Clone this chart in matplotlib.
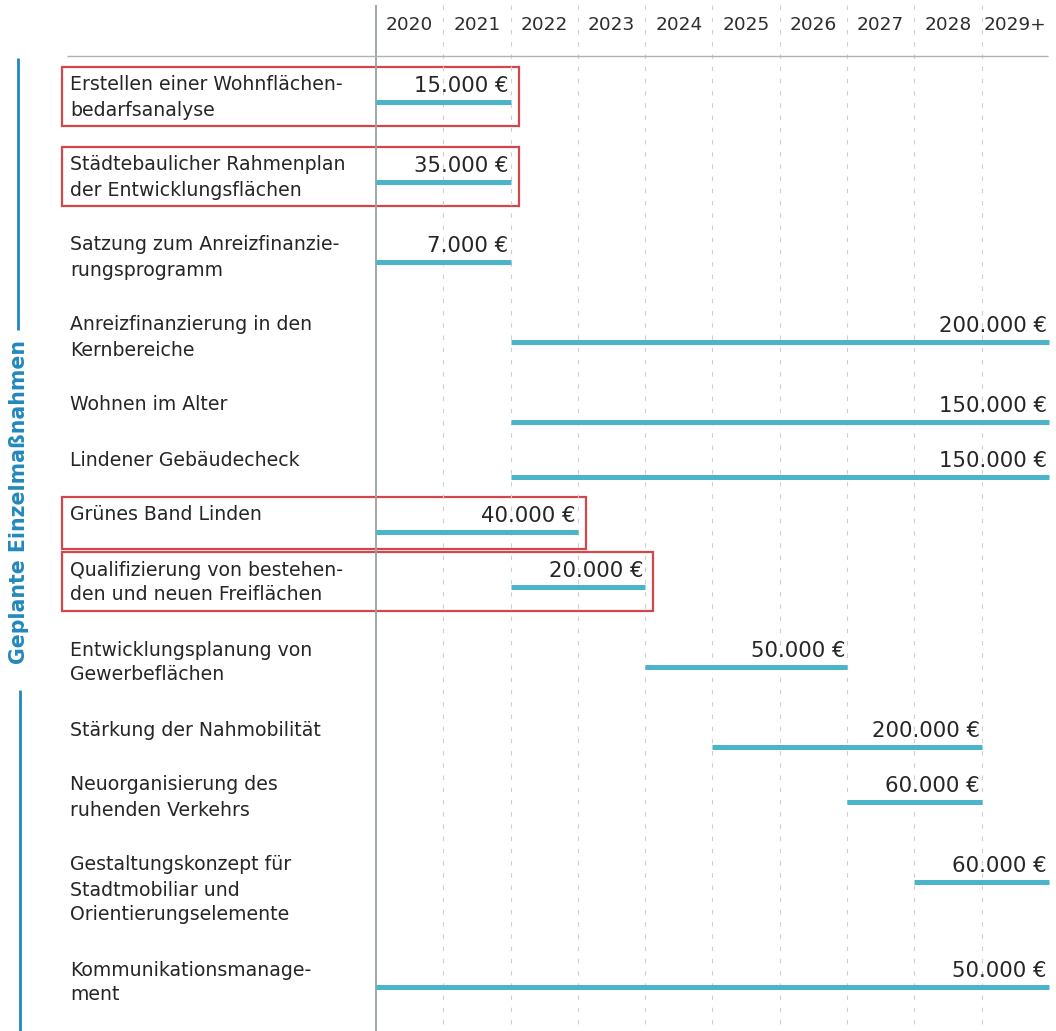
import matplotlib.pyplot as plt
from matplotlib.patches import Rectangle

### the measures, their budget and the years they run
years = ['2020', '2021', '2022', '2023', '2024', '2025', '2026', '2027', '2028', '2029+']
labels = [
    'Erstellen einer Wohnflächen-\nbedarfsanalyse',
    'Städtebaulicher Rahmenplan\nder Entwicklungsflächen',
    'Satzung zum Anreizfinanzie-\nrungsprogramm',
    'Anreizfinanzierung in den\nKernbereiche',
    'Wohnen im Alter',
    'Lindener Gebäudecheck',
    'Grünes Band Linden',
    'Qualifizierung von bestehen-\nden und neuen Freiflächen',
    'Entwicklungsplanung von\nGewerbeflächen',
    'Stärkung der Nahmobilität',
    'Neuorganisierung des\nruhenden Verkehrs',
    'Gestaltungskonzept für\nStadtmobiliar und\nOrientierungselemente',
    'Kommunikationsmanage-\nment',
]
amounts = [15000, 35000, 7000, 200000, 150000, 150000, 40000, 20000, 50000, 200000, 60000, 60000, 50000]
first_year = [2020, 2020, 2020, 2022, 2022, 2022, 2020, 2022, 2024, 2025, 2027, 2028, 2020]
last_year = [2021, 2021, 2021, 2029, 2029, 2029, 2022, 2023, 2026, 2028, 2028, 2029, 2029]
boxed = [True, True, False, False, False, False, True, True, False, False, False, False, False]
side_title = 'Geplante Einzelmaßnahmen'

bar_col = '#4ab4c9'
red = '#d2474c'
title_col = '#2289bd'
txt_col = '#262626'

W, H = 1056, 1031
x0, cw = 376, 67.3          # pixel of 2020 column start, column width


def px(x):
    # pixel x -> column units
    return (x - x0) / cw


fig = plt.figure(figsize=(W / 100, H / 100), dpi=100)
ax = fig.add_axes([0, 0, 1, 1])
ax.set_xlim(px(0), px(W))
ax.set_ylim(H, 0)
ax.axis('off')

### grid: solid line at the start, dashed year boundaries
ax.vlines(0, 5, H, color='#9aa39f', lw=1.3)
ax.vlines(range(1, len(years)), 5, H, color='#cfcfcf', lw=0.8, linestyles=(0, (4, 7)))
ax.hlines(56, px(67), px(1048), color='#a9b5ad', lw=1.0)
for i, y in enumerate(years):
    ax.text(i + 0.5, 25, y, ha='center', va='center', fontsize=13.3, color='#2e2e2e')

### rows
line_h, gap = 25, 30
ytop = 85
for lab, amt, a, b, bx in zip(labels, amounts, first_year, last_year, boxed):
    lines = lab.split('\n')
    for k, ln in enumerate(lines):
        ax.text(px(70), ytop + k * line_h, ln, ha='left', va='center', fontsize=13.6, color=txt_col)
    s = a - 2020
    e = b - 2020 + 1
    ax.hlines(ytop + 17, s, e, color=bar_col, lw=3.6)
    ax.text(e - 0.03, ytop + 1, f'{amt:,} €'.replace(',', '.'), ha='right', va='center',
            fontsize=15.3, color=txt_col)
    if bx:
        box_h = 52 if len(lines) == 1 else 59
        ax.add_patch(Rectangle((px(62), ytop - 18), e + 0.12 - px(62), box_h,
                               fill=False, ec=red, lw=1.6))
    ytop += len(lines) * line_h + gap

### rotated group title with rule lines
ax.text(px(19), 502, side_title, rotation=90, ha='center', va='center',
        fontsize=14.8, fontweight='bold', color=title_col)
ax.vlines(px(18), 58, 330, color=title_col, lw=2)
ax.vlines(px(20), 690, H, color=title_col, lw=2)

fig.savefig('out.png', dpi=100)
